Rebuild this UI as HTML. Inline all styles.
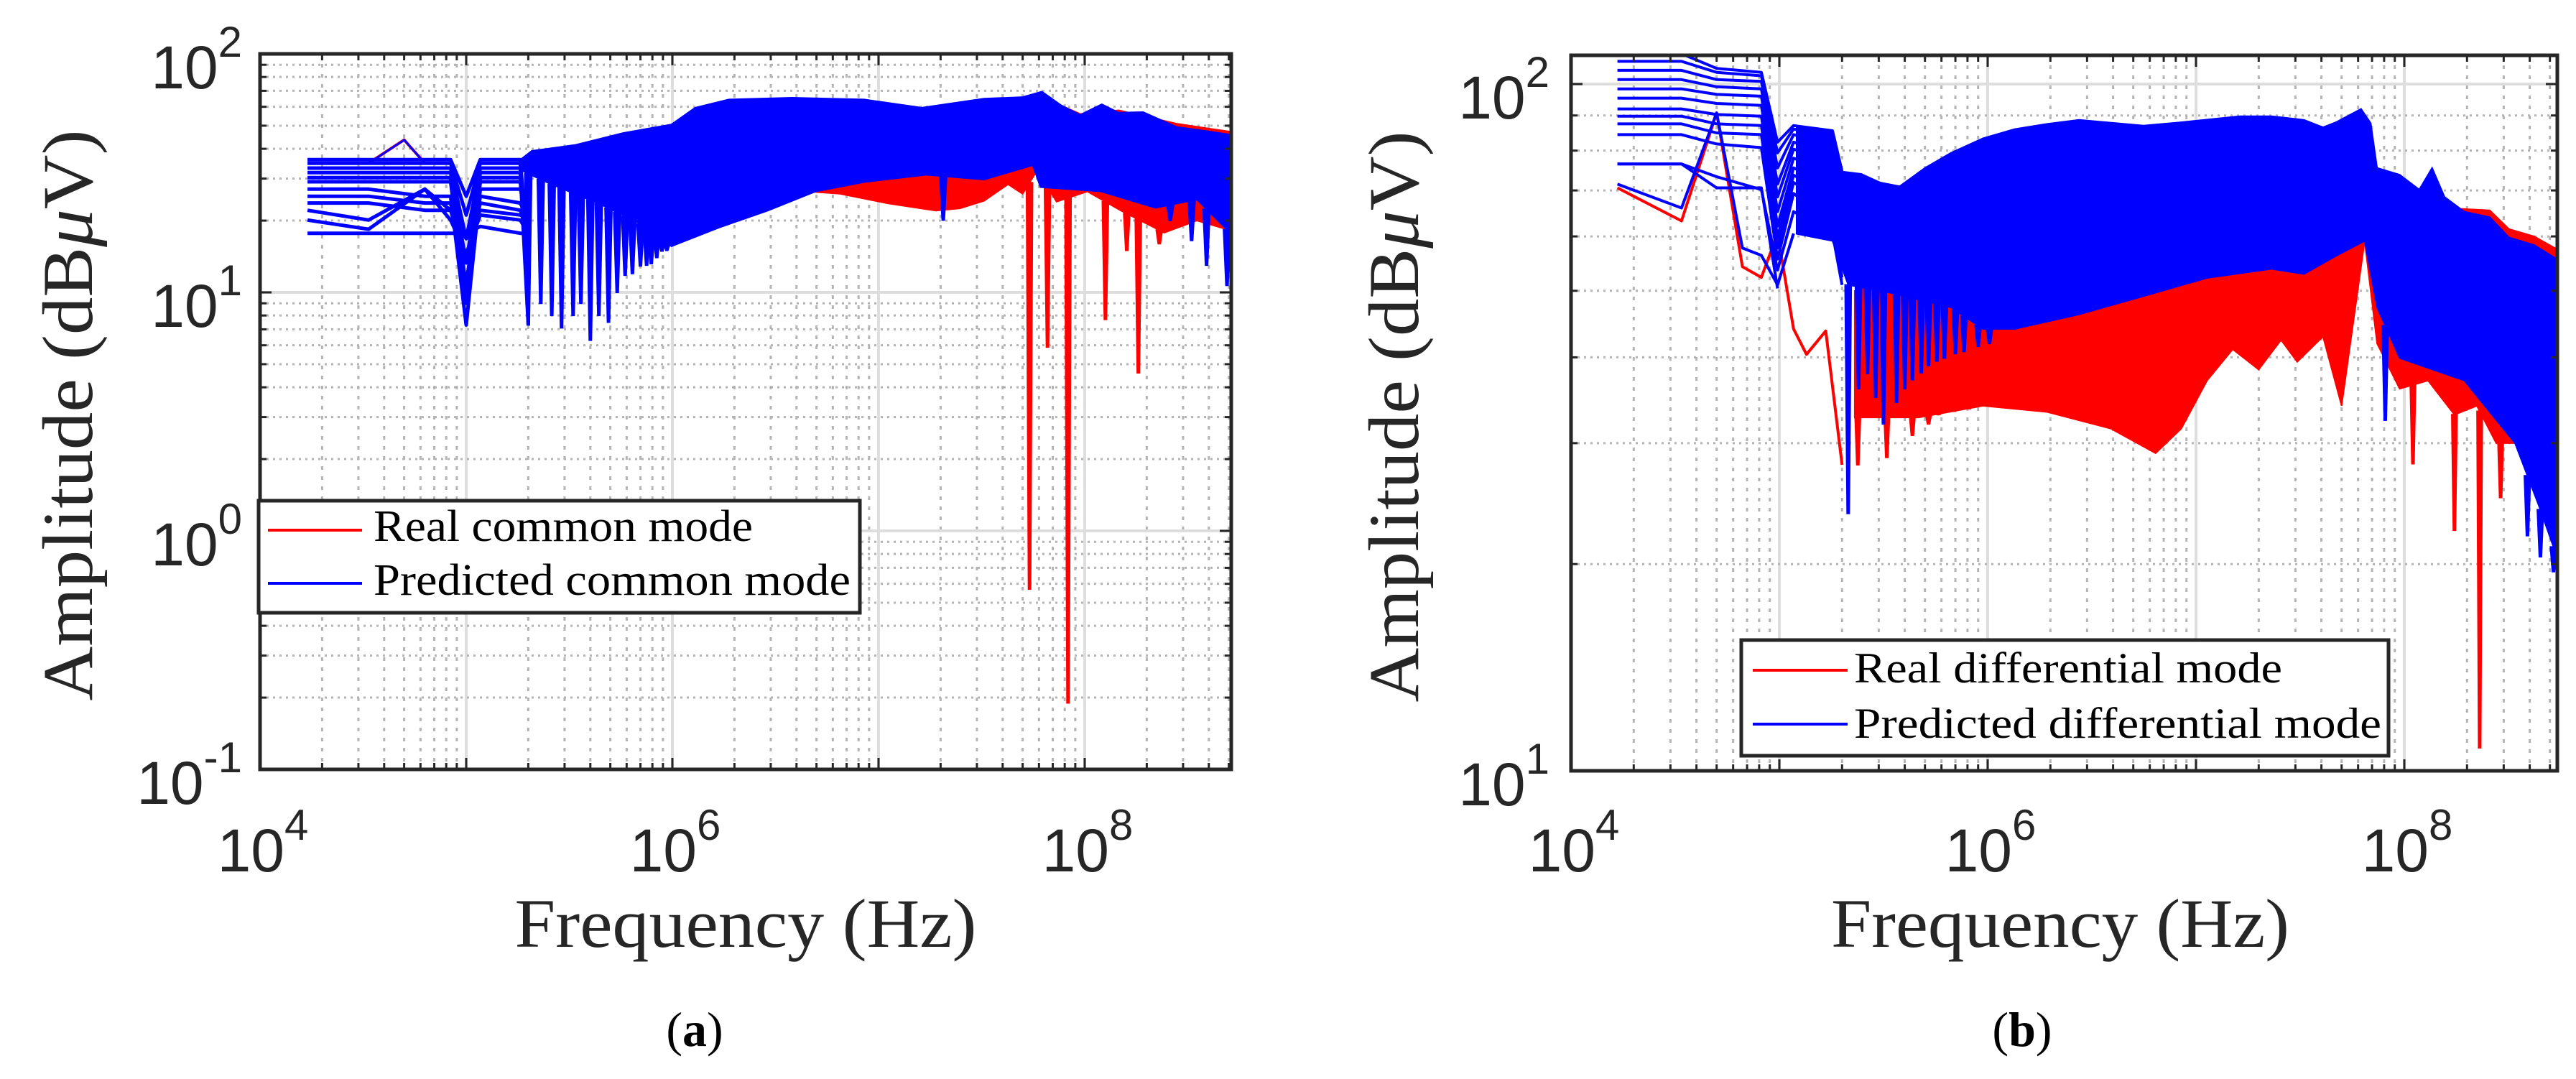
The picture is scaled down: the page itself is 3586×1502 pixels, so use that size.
<!DOCTYPE html>
<html><head><meta charset="utf-8"><style>
html,body{margin:0;padding:0;background:#fff;}
svg{display:block;}
</style></head><body>
<svg id="fig" xmlns="http://www.w3.org/2000/svg" width="3586" height="1502" viewBox="0 0 3586 1502">
<rect x="0" y="0" width="3586" height="1502" fill="#fff"/>
<defs>
<clipPath id="clipA"><rect x="362" y="75" width="1352" height="996"/></clipPath>
<clipPath id="clipB"><rect x="2187" y="77" width="1373" height="996"/></clipPath>
</defs>
<g id="panelA"></g>
<g id="panelB"></g>
</svg>
<script>
// ===== Panel (a) data: common mode =====
const aLowFreq = [1.7e4, 3.36e4, 6.3e4, 8.4e4, 1.0e5, 1.17e5, 1.83e5, 2.0e5];
const aLine1 = [36.0, 36.0, 36.0, 36.0, 25.3, 36.0, 36.0, 13.3];
const aLine2 = [34.8, 34.8, 34.8, 34.8, 21.1, 34.8, 34.8, 10.6];
const aLine3 = [33.2, 33.2, 33.2, 33.2, 16.8, 33.2, 33.2, 9.0];
const aLine4 = [31.8, 31.8, 31.8, 31.8, 13.3, 31.8, 31.8, 7.3];
const aLine5 = [30.3, 30.3, 30.3, 30.3, 10.6, 30.3, 30.3, 16.8];
const aLine6 = [29.1, 29.1, 29.1, 29.1, 9.0, 29.1, 29.1, 13.3];
const aLine7 = [27.1, 27.1, 25.3, 25.3, 7.3, 27.1, 27.1, 21.1];
const aLine8 = [25.3, 25.3, 23.7, 23.7, 11.0, 25.3, 23.7, 20.1];
const aLine9 = [23.7, 23.7, 22.1, 22.1, 13.3, 23.7, 22.1, 18.4];
const aLine10 = [22.1, 20.1, 27.1, 22.1, 16.8, 22.1, 21.1, 20.1];
const aLine11 = [20.1, 18.4, 27.1, 20.1, 14.5, 21.1, 20.1, 17.7];
const aLine12 = [17.7, 17.7, 17.7, 17.7, 17.7, 18.9, 17.7, 17.7];
const aSpikeFreq = [3.36e4, 5.0e4, 6.3e4];
const aSpikeAmp = [34.8, 43.6, 34.8];
const aBlueUpperF = [1.83e5, 2.08e5, 3.37e5, 5.77e5, 9.9e5, 1.29e6, 1.88e6, 3.8e6, 8.5e6, 1.62e7, 3.25e7, 5.0e7, 6.2e7, 7.7e7, 9.5e7, 1.21e8, 1.46e8, 1.92e8, 2.79e8, 4.07e8, 5.3e8];
const aBlueUpperA = [36.0, 39.2, 41.5, 46.6, 50.6, 59.5, 64.4, 65.5, 64.4, 59.5, 64.9, 65.9, 69.5, 60.8, 55.5, 61.5, 56.7, 57.0, 49.4, 47.2, 45.6];
const aBlueLowerF = [1.83e5, 2.58e5, 4.4e5, 7.6e5, 9.9e5, 1.69e6, 2.9e6, 4.96e6, 8.5e6, 1.7e7, 3.25e7, 5.6e7, 6.1e7, 1.2e8, 2.2e8, 3.5e8, 5.3e8];
const aBlueLowerA = [32.6, 28.4, 23.6, 18.7, 15.6, 18.7, 22.0, 26.5, 29.0, 31.1, 29.7, 34.1, 27.6, 26.5, 22.6, 24.5, 17.1];
const aRedUpperF = [4.5e6, 8.5e6, 1.62e7, 3.25e7, 6.2e7, 9.5e7, 1.46e8, 2.79e8, 4.07e8, 5.3e8];
const aRedUpperA = [60, 62, 58, 62, 66, 56, 58, 51, 48.5, 47];
const aRedLowerF = [4.5e6, 6.5e6, 1.11e7, 1.9e7, 2.48e7, 3.25e7, 4.25e7, 5.0e7, 5.9e7, 7.3e7, 1.03e8, 1.5e8, 2.43e8, 3.5e8, 5.3e8];
const aRedLowerA = [26.5, 25.9, 23.6, 22.0, 22.5, 24.2, 28.4, 25.9, 32.6, 24.0, 26.5, 22.0, 17.8, 20.0, 18.0];
const aRedDipF = [5.4e7, 8.3e7, 6.6e7, 1.26e8, 1.82e8, 1.6e8, 2.3e8];
const aRedDipA = [0.57, 0.19, 5.9, 7.7, 4.6, 15, 16];
const aBlueDipF = [2.0e5, 2.3e5, 2.6e5, 2.9e5, 3.3e5, 3.6e5, 4.0e5, 4.4e5, 4.9e5, 5.4e5, 5.9e5, 6.4e5, 7.0e5, 7.5e5, 7.9e5, 8.4e5, 8.9e5, 9.4e5, 2.06e7, 2.6e8, 3.3e8, 3.9e8, 4.9e8];
const aBlueDipA = [7.3, 9.0, 8.0, 7.1, 8.0, 9.0, 6.3, 8.0, 7.5, 10.0, 11.8, 12.0, 12.9, 13.0, 13.2, 14.0, 14.9, 15.0, 20.1, 20.0, 16.5, 13.0, 10.7];
const aYTicks = [-1, 0, 1, 2];
const aXTicks = [4, 6, 8];

// ===== Panel (b) data: differential mode =====
const bLowFreq = [1.67e4, 3.39e4, 5.0e4, 8.2e4, 9.8e4, 1.17e5, 1.8e5, 2.0e5];
const bLine1 = [110.7, 110.7, 105.4, 104.0, 82.3, 87.0, 85.5, 74.6];
const bLine2 = [107.9, 107.9, 104.0, 102.8, 79.4, 86.0, 83.9, 71.9];
const bLine3 = [104.7, 104.7, 101.5, 100.9, 75.5, 84.4, 81.8, 68.5];
const bLine4 = [101.5, 101.5, 99.1, 98.4, 71.5, 82.3, 79.4, 65.2];
const bLine5 = [98.4, 98.4, 96.6, 96.0, 68.5, 80.4, 77.0, 62.1];
const bLine6 = [95.4, 95.4, 93.7, 93.1, 65.2, 78.0, 74.1, 59.1];
const bLine7 = [92.0, 92.0, 90.3, 89.8, 62.1, 75.5, 71.1, 56.3];
const bLine8 = [89.8, 89.8, 87.5, 87.0, 59.8, 73.7, 68.5, 54.9];
const bLine9 = [87.5, 87.5, 84.9, 84.4, 57.7, 71.9, 66.0, 53.6];
const bLine10 = [84.4, 84.4, 81.8, 80.8, 55.6, 69.3, 62.8, 52.3];
const bLine11 = [76.5, 76.5, 73.3, 70.2, 53.6, 65.2, 60.6, 51.0];
const bSpecialFreq = [1.67e4, 3.39e4, 5.0e4, 6.65e4, 8.2e4, 9.8e4, 1.17e5];
const bSpecialBlue = [71.5, 66.0, 90.8, 57.7, 56.3, 51.0, 60.6];
const bFlatFreq = [1.67e4, 3.39e4, 5.0e4, 8.2e4, 9.8e4];
const bFlatBlue = [76.5, 76.5, 70.6, 70.6, 50.4];
const bRedLowFreq = [1.67e4, 3.39e4, 5.0e4, 6.65e4, 8.2e4, 9.8e4, 1.17e5, 1.35e5, 1.67e5, 2.0e5];
const bRedLowAmp = [70.6, 63.2, 90.8, 54.2, 52.3, 60.6, 44.0, 40.4, 43.7, 27.9];
const bBlueUpperF = [1.21e5, 1.8e5, 2.0e5, 2.47e5, 3.05e5, 3.78e5, 5.0e5, 6.66e5, 9.5e5, 1.35e6, 1.93e6, 2.75e6, 5.6e6, 8.5e6, 1.62e7, 2.3e7, 3.3e7, 4.07e7, 4.7e7, 6.2e7, 6.9e7, 7.4e7, 9.5e7, 1.18e8, 1.36e8, 1.56e8, 1.94e8, 2.57e8, 3.18e8, 4.2e8, 5.4e8];
const bBlueUpperA = [87.0, 85.5, 74.6, 74.0, 71.9, 71.0, 75.5, 79.4, 83.4, 86.0, 87.5, 88.7, 87.0, 88.0, 89.8, 89.8, 88.7, 86.5, 88.0, 92.0, 87.7, 75.5, 73.8, 70.2, 75.5, 68.5, 65.2, 64.0, 59.8, 58.3, 55.6];
const bBlueLowerF = [1.21e5, 1.8e5, 2.14e5, 3.28e5, 6.65e5, 9.5e5, 1.35e6, 2.75e6, 5.6e6, 1.13e7, 2.3e7, 3.3e7, 4.7e7, 6.45e7, 7.4e7, 9.5e7, 1.94e8, 3.4e8, 4.5e8, 5.4e8];
const bBlueLowerA = [60.5, 59.1, 51.0, 49.8, 47.3, 44.0, 44.0, 46.2, 49.1, 52.2, 53.8, 52.9, 56.2, 59.1, 47.3, 39.9, 37.0, 30.0, 24.0, 20.5];
const bRedUpperF = [2.3e5, 1.0e6, 1.0e7, 6.2e7, 7.4e7, 1.56e8, 2.57e8, 3.18e8, 4.2e8, 5.4e8];
const bRedUpperA = [50, 60, 70, 80, 70, 66, 65.5, 61.5, 60, 57.5];
const bRedLowerF = [2.3e5, 4.67e5, 9.5e5, 1.93e6, 3.9e6, 6.4e6, 8.5e6, 1.13e7, 1.5e7, 2.0e7, 2.56e7, 3.06e7, 4.07e7, 5.0e7, 6.45e7, 7.4e7, 9.5e7, 1.3e8, 1.74e8, 2.23e8, 2.76e8, 5.4e8];
const bRedLowerA = [32.7, 32.7, 34.0, 33.3, 31.5, 29.0, 31.5, 37.0, 41.1, 38.4, 42.4, 39.4, 42.9, 34.0, 59.1, 41.9, 36.0, 37.0, 33.0, 34.0, 30.0, 30.0];
const bRedDipF = [2.38e5, 3.28e5, 4.35e5, 5.2e5, 5.8e5, 6.8e5, 8.0e5, 1.1e8, 1.74e8, 2.3e8, 2.9e8];
const bRedDipA = [27.9, 28.6, 30.8, 32.0, 33.0, 34.0, 34.0, 28.0, 22.4, 10.8, 25.0];
const bBlueDipF = [2.14e5, 2.4e5, 2.65e5, 2.9e5, 3.16e5, 3.65e5, 4.0e5, 4.35e5, 4.8e5, 5.2e5, 5.7e5, 6.2e5, 7.0e5, 7.7e5, 9.0e5, 1.02e6, 8.1e7, 3.9e8, 4.5e8, 5.2e8];
const bBlueDipA = [23.7, 36.0, 37.9, 35.0, 32.0, 34.4, 36.0, 37.1, 38.0, 38.9, 39.5, 39.9, 40.5, 40.8, 41.5, 41.9, 32.4, 22.0, 20.5, 19.5];
const bYTicks = [1, 2];
const bXTicks = [4, 6, 8];

// ===== drawing =====
const NS = 'http://www.w3.org/2000/svg';
function mk(tag, attrs, parent) {
  const e = document.createElementNS(NS, tag);
  for (const k in attrs) e.setAttribute(k, attrs[k]);
  parent.appendChild(e);
  return e;
}
function makeAxes(x0, x1, y0, y1, lf0, lf1, la0, la1) {
  return {
    x0, x1, y0, y1, lf0, lf1, la0, la1,
    sx: f => x0 + (Math.log10(f) - lf0) / (lf1 - lf0) * (x1 - x0),
    sy: a => y1 - (Math.log10(a) - la0) / (la1 - la0) * (y1 - y0)
  };
}
function interp(F, A, f) {
  const lf = Math.log10(f);
  if (f <= F[0]) return A[0];
  for (let i = 1; i < F.length; i++) {
    if (f <= F[i]) {
      const l0 = Math.log10(F[i-1]), l1 = Math.log10(F[i]);
      const t = (lf - l0) / (l1 - l0);
      return Math.pow(10, Math.log10(A[i-1]) + t * (Math.log10(A[i]) - Math.log10(A[i-1])));
    }
  }
  return A[A.length - 1];
}
function pts(ax, F, A) { return F.map((f, i) => ax.sx(f).toFixed(1) + ',' + ax.sy(A[i]).toFixed(1)).join(' '); }

function drawGrid(g, ax) {
  const gg = mk('g', {}, g);
  
  
  for (let d = Math.floor(ax.lf0); d <= Math.ceil(ax.lf1); d++) {
    for (let m = 1; m <= 9; m++) {
      const lf = d + Math.log10(m);
      if (lf < ax.lf0 - 1e-6 || lf > ax.lf1 + 1e-6) continue;
      const x = ax.x0 + (lf - ax.lf0) / (ax.lf1 - ax.lf0) * (ax.x1 - ax.x0);
      if (m === 1) mk('line', {x1: x, y1: ax.y0, x2: x, y2: ax.y1, stroke: '#dedede', 'stroke-width': 4}, gg);
      else mk('line', {x1: x, y1: ax.y0, x2: x, y2: ax.y1, stroke: '#b4b4b4', 'stroke-width': 3, 'stroke-dasharray': '5,9'}, gg);
    }
  }
  for (let d = Math.floor(ax.la0); d <= Math.ceil(ax.la1); d++) {
    for (let m = 1; m <= 9; m++) {
      const la = d + Math.log10(m);
      if (la < ax.la0 - 1e-6 || la > ax.la1 + 1e-6) continue;
      const y = ax.y1 - (la - ax.la0) / (ax.la1 - ax.la0) * (ax.y1 - ax.y0);
      if (m === 1) mk('line', {x1: ax.x0, y1: y, x2: ax.x1, y2: y, stroke: '#dedede', 'stroke-width': 4}, gg);
      else mk('line', {x1: ax.x0, y1: y, x2: ax.x1, y2: y, stroke: '#b4b4b4', 'stroke-width': 3, 'stroke-dasharray': '3,6'}, gg);
    }
  }
}
function drawTicks(g, ax) {
  const tg = mk('g', {stroke: '#262626', 'stroke-width': 3}, g);
  
  
  for (let d = Math.floor(ax.lf0); d <= Math.ceil(ax.lf1); d++) {
    for (let m = 1; m <= 9; m++) {
      const lf = d + Math.log10(m);
      if (lf < ax.lf0 - 1e-6 || lf > ax.lf1 + 1e-6) continue;
      const x = ax.x0 + (lf - ax.lf0) / (ax.lf1 - ax.lf0) * (ax.x1 - ax.x0);
      const L = m === 1 ? 16 : 9;
      mk('line', {x1: x, y1: ax.y1, x2: x, y2: ax.y1 - L}, tg);
      mk('line', {x1: x, y1: ax.y0, x2: x, y2: ax.y0 + L}, tg);
    }
  }
  for (let d = Math.floor(ax.la0); d <= Math.ceil(ax.la1); d++) {
    for (let m = 1; m <= 9; m++) {
      const la = d + Math.log10(m);
      if (la < ax.la0 - 1e-6 || la > ax.la1 + 1e-6) continue;
      const y = ax.y1 - (la - ax.la0) / (ax.la1 - ax.la0) * (ax.y1 - ax.y0);
      const L = m === 1 ? 16 : 9;
      mk('line', {x1: ax.x0, y1: y, x2: ax.x0 + L, y2: y}, tg);
      mk('line', {x1: ax.x1, y1: y, x2: ax.x1 - L, y2: y}, tg);
    }
  }
}
function powLabel(g, x, y, base, exp, anchor, name) {
  const t = mk('text', {x: x, y: y, 'font-family': '"Liberation Sans", Arial, sans-serif', 'font-size': 84, fill: '#262626', 'text-anchor': anchor}, g);
  
  
  const s1 = mk('tspan', {}, t); s1.textContent = base;
  const s2 = mk('tspan', {dy: -44, 'font-size': 60}, t); s2.textContent = exp;
  return t;
}
function drawLine(g, ax, F, A, color, width, name) {
  const p = mk('polyline', {points: pts(ax, F, A), fill: 'none', stroke: color, 'stroke-width': width, 'stroke-linejoin': 'round'}, g);
  
  
}
function drawBand(g, ax, UF, UA, LF, LA, color, name) {
  const s = pts(ax, UF, UA) + ' ' + pts(ax, LF.slice().reverse(), LA.slice().reverse());
  const p = mk('polygon', {points: s, fill: color, stroke: color, 'stroke-width': 2}, g);
  
  
}
function drawDips(g, ax, DF, DA, BF, BA, color, half, name) {
  DF.forEach((f, i) => {
    const base = interp(BF, BA, f);
    const xl = ax.sx(f / half), xr = ax.sx(f * half), xm = ax.sx(f);
    const yb = ax.sy(base), yd = ax.sy(DA[i]);
    const p = mk('polygon', {points: `${xl},${yb} ${xm - 1.5},${yd} ${xm + 1.5},${yd} ${xr},${yb}`, fill: color, stroke: color, 'stroke-width': 2}, g);
    
    
  });
}
function legend(g, x, y, w, h, rows, fs, name) {
  const lg = mk('g', {}, g);
  
  
  mk('rect', {x, y, width: w, height: h, fill: '#fff', stroke: '#262626', 'stroke-width': 5}, lg);
  rows.forEach(r => {
    const e = mk('g', {}, lg);
    
    
    mk('line', {x1: r.lx0, y1: r.ly, x2: r.lx1, y2: r.ly, stroke: r.color, 'stroke-width': 4}, e);
    const t = mk('text', {x: r.tx, y: r.ty, 'font-family': '"Liberation Serif", "Times New Roman", serif', 'font-size': fs, fill: '#000', textLength: r.tl, lengthAdjust: 'spacingAndGlyphs'}, e);
    t.textContent = r.label;
  });
}
function titles(g, xlx, xly, xltl, ylx, yly, yltl, cap, capx) {
  const xt = mk('text', {x: xlx, y: xly, 'font-family': '"Liberation Serif", "Times New Roman", serif', 'font-size': 96, fill: '#262626', 'text-anchor': 'middle', textLength: xltl, lengthAdjust: 'spacingAndGlyphs'}, g);
  
  
  xt.textContent = 'Frequency (Hz)';
  const yt = mk('text', {x: 0, y: 0, transform: `translate(${ylx},${yly}) rotate(-90)`, 'font-family': '"Liberation Serif", "Times New Roman", serif', 'font-size': 100, fill: '#262626', 'text-anchor': 'middle', textLength: yltl, lengthAdjust: 'spacingAndGlyphs'}, g);
  
  
  yt.innerHTML = 'Amplitude (dB<tspan font-style="italic">μ</tspan>V)';
  const c = mk('text', {x: capx, y: 1456, 'font-family': '"Liberation Serif", "Times New Roman", serif', 'font-size': 68, fill: '#000', 'text-anchor': 'middle'}, g);
  
  
  c.innerHTML = '(<tspan font-weight="bold">' + cap + '</tspan>)';
}

// ---- Panel A ----
(function () {
  const g = document.getElementById('panelA');
  const ax = makeAxes(362, 1714, 75, 1071, 4, 4 + (1714 - 362) / 287, -1, 2);
  drawGrid(g, ax);
  const pg = mk('g', {'clip-path': 'url(#clipA)'}, g);
  
  
  drawBand(pg, ax, aRedUpperF, aRedUpperA, aRedLowerF, aRedLowerA, '#ff0000', 'real-common-mode-band');
  drawDips(pg, ax, aRedDipF, aRedDipA, aRedLowerF, aRedLowerA, '#ff0000', 1.035, 'real-dip');
  drawLine(pg, ax, aSpikeFreq, aSpikeAmp, '#ff0000', 4, 'real-low-spike');
  [aLine1, aLine2, aLine3, aLine4, aLine5, aLine6, aLine7, aLine8, aLine9, aLine10, aLine11, aLine12].forEach(L => drawLine(pg, ax, aLowFreq, L, '#0000ff', 5, 'predicted-low-line'));
  drawLine(pg, ax, aSpikeFreq, aSpikeAmp, '#0000ff', 3, 'predicted-low-spike');
  drawBand(pg, ax, aBlueUpperF, aBlueUpperA, aBlueLowerF, aBlueLowerA, '#0000ff', 'predicted-common-mode-band');
  drawDips(pg, ax, aBlueDipF, aBlueDipA, aBlueLowerF, aBlueLowerA, '#0000ff', 1.04, 'predicted-dip');
  drawTicks(g, ax);
  const fr = mk('rect', {x: 362, y: 75, width: 1352, height: 996, fill: 'none', stroke: '#262626', 'stroke-width': 5}, g);
  
  
  aYTicks.forEach(e => powLabel(g, 337, ax.sy(Math.pow(10, e)) + 48, '10', String(e), 'end', 'y-tick-label'));
  aXTicks.forEach(e => powLabel(g, ax.sx(Math.pow(10, e)) + 4, 1213, '10', String(e), 'middle', 'x-tick-label'));
  legend(g, 360, 697, 837, 156, [
    {lx0: 373, lx1: 504, ly: 738, tx: 520, ty: 753, tl: 528, color: '#ff0000', label: 'Real common mode'},
    {lx0: 373, lx1: 504, ly: 812, tx: 520, ty: 828, tl: 664, color: '#0000ff', label: 'Predicted common mode'}
  ], 62, 'legend');
  titles(g, 1038, 1318, 643, 128, 578, 795, 'a', 967);
})();

// ---- Panel B ----
(function () {
  const g = document.getElementById('panelB');
  const ax = makeAxes(2187, 3560, 77, 1073, 4, 4 + (3560 - 2187) / 290, 1, 1 + (1073 - 77) / 956);
  drawGrid(g, ax);
  const pg = mk('g', {'clip-path': 'url(#clipB)'}, g);
  
  
  drawBand(pg, ax, bRedUpperF, bRedUpperA, bRedLowerF, bRedLowerA, '#ff0000', 'real-differential-mode-band');
  drawDips(pg, ax, bRedDipF, bRedDipA, bRedLowerF, bRedLowerA, '#ff0000', 1.03, 'real-dip');
  drawLine(pg, ax, bRedLowFreq, bRedLowAmp, '#ff0000', 4, 'real-low-line');
  [bLine1, bLine2, bLine3, bLine4, bLine5, bLine6, bLine7, bLine8, bLine9, bLine10, bLine11].forEach(L => drawLine(pg, ax, bLowFreq, L, '#0000ff', 4, 'predicted-low-line'));
  drawLine(pg, ax, bSpecialFreq, bSpecialBlue, '#0000ff', 4, 'predicted-low-line');
  drawLine(pg, ax, bFlatFreq, bFlatBlue, '#0000ff', 4, 'predicted-low-line');
  drawBand(pg, ax, bBlueUpperF, bBlueUpperA, bBlueLowerF, bBlueLowerA, '#0000ff', 'predicted-differential-mode-band');
  drawDips(pg, ax, bBlueDipF, bBlueDipA, bBlueLowerF, bBlueLowerA, '#0000ff', 1.035, 'predicted-dip');
  drawTicks(g, ax);
  const fr = mk('rect', {x: 2187, y: 77, width: 1373, height: 996, fill: 'none', stroke: '#262626', 'stroke-width': 5}, g);
  
  
  bYTicks.forEach(e => powLabel(g, 2157, ax.sy(Math.pow(10, e)) + 48, '10', String(e), 'end', 'y-tick-label'));
  bXTicks.forEach(e => powLabel(g, ax.sx(Math.pow(10, e)) + 4, 1213, '10', String(e), 'middle', 'x-tick-label'));
  legend(g, 2424, 891, 901, 161, [
    {lx0: 2440, lx1: 2572, ly: 933, tx: 2581, ty: 950, tl: 596, color: '#ff0000', label: 'Real differential mode'},
    {lx0: 2440, lx1: 2572, ly: 1008, tx: 2581, ty: 1027, tl: 734, color: '#0000ff', label: 'Predicted differential mode'}
  ], 60, 'legend');
  titles(g, 2868, 1318, 638, 1974, 580, 795, 'b', 2815);
})();
</script>
</body></html>
